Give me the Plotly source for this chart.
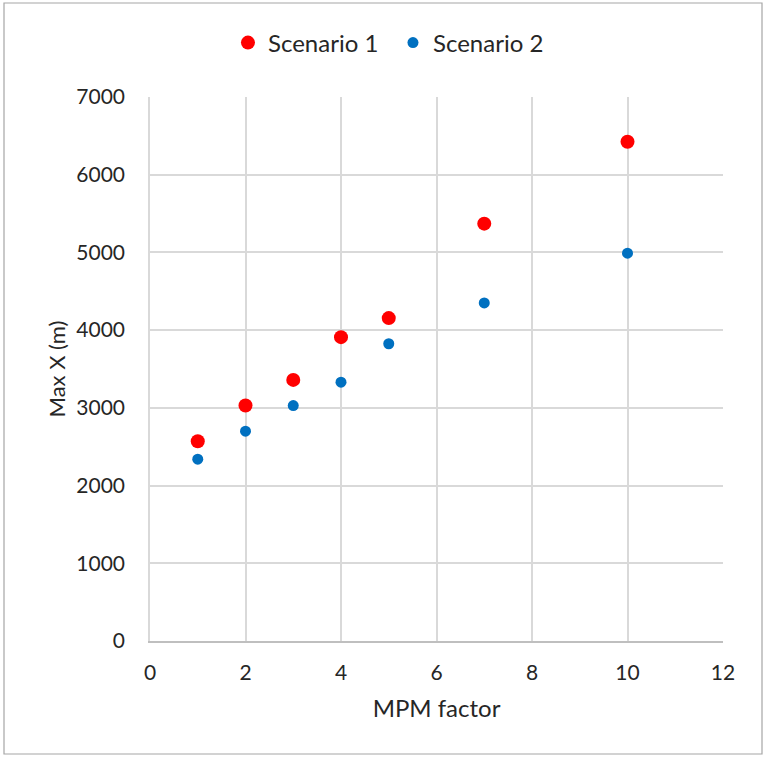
import plotly.graph_objects as go

mpm_factor = [1, 2, 3, 4, 5, 7, 10]
scenario_1 = [2570, 3030, 3360, 3910, 4155, 5370, 6425]
scenario_2 = [2340, 2700, 3030, 3330, 3825, 4350, 4990]

FONT = "Lato, Carlito, Calibri, sans-serif"
TEXT = "#262626"
GRID = "#D9D9D9"

fig = go.Figure()
fig.add_trace(go.Scatter(
    x=mpm_factor, y=scenario_1, mode="markers", name="Scenario 1",
    marker=dict(color="#FF0000", size=14, line=dict(width=0)),
))
fig.add_trace(go.Scatter(
    x=mpm_factor, y=scenario_2, mode="markers", name="Scenario 2",
    marker=dict(color="#0070C0", size=11, line=dict(width=0)),
))

W, H = 766, 758
L, R, T, B = 150, 43, 97, 117

fig.update_layout(
    width=W, height=H,
    margin=dict(l=L, r=R, t=T, b=B),
    paper_bgcolor="white", plot_bgcolor="white",
    font=dict(family=FONT, size=20, color=TEXT),
    showlegend=True,
    legend=dict(
        orientation="h", xref="container", yref="container",
        x=0.513, xanchor="center", y=1 - 43 / H, yanchor="middle",
        font=dict(size=24, color=TEXT), itemsizing="trace",
        itemwidth=30, tracegroupgap=0, entrywidth=120,
    ),
    xaxis=dict(
        range=[0, 12], dtick=2, tick0=0,
        showgrid=True, gridcolor=GRID, gridwidth=1.5,
        zeroline=False, showline=True, linecolor="#BFBFBF", linewidth=1.5,
        ticks="", ticklabelstandoff=12,
        tickfont=dict(size=21, color=TEXT),
        title=dict(text="MPM factor", font=dict(size=24, color=TEXT), standoff=17),
    ),
    yaxis=dict(
        range=[0, 7000], dtick=1000, tick0=0,
        showgrid=True, gridcolor=GRID, gridwidth=1.5,
        zeroline=False, showline=True, linecolor=GRID, linewidth=1.5,
        ticks="", ticklabelstandoff=19,
        tickfont=dict(size=21, color=TEXT),
        title=dict(text="Max X (m)", font=dict(size=22, color=TEXT), standoff=5),
    ),
)

# thin frame around the whole chart
pw, ph = W - L - R, H - T - B
fig.add_shape(
    type="rect", xref="paper", yref="paper", layer="above",
    x0=(4 - L) / pw, x1=(762 - L) / pw,
    y0=-(754 - T - ph) / ph, y1=1 + (T - 3) / ph,
    line=dict(color="#A6A6A6", width=1.2), fillcolor="rgba(0,0,0,0)",
)

fig.write_html("out.html")
